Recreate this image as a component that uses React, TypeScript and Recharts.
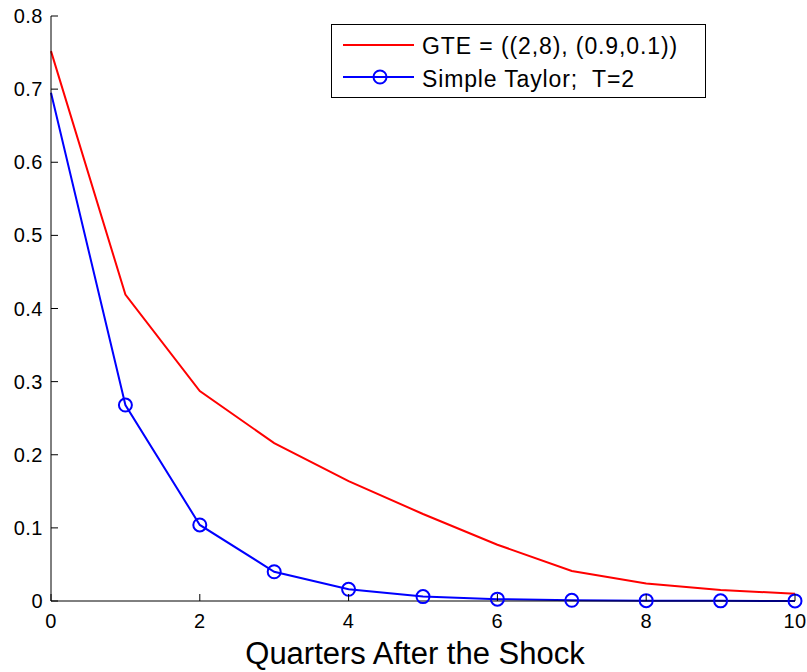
import React from 'react';
import { LineChart, Line, XAxis, YAxis } from 'recharts';

const quarters = [0, 1, 2, 3, 4, 5, 6, 7, 8, 9, 10];
const gte = [0.752, 0.419, 0.287, 0.216, 0.164, 0.119, 0.077, 0.041, 0.024, 0.015, 0.01];
const taylor = [0.695, 0.268, 0.104, 0.04, 0.016, 0.006, 0.0025, 0.001, 0.0005, 0.0002, 0.0001];
const xTicks = [0, 2, 4, 6, 8, 10];
const yTicks = [0, 0.1, 0.2, 0.3, 0.4, 0.5, 0.6, 0.7, 0.8];

const chartData = quarters.map((q, i) => ({ q, gte: gte[i], taylor: taylor[i] }));

const FONT = '"Liberation Sans", Arial, sans-serif';
const TICK_LEN = 7;

const BottomTick = (props: any) => {
  const { x, y, payload } = props;
  return (
    <g>
      <line x1={x} y1={y} x2={x} y2={y - TICK_LEN} stroke="#000" strokeWidth={1} />
      <text x={x} y={y + 27} textAnchor="middle" fontSize={20} letterSpacing={0.5} fontFamily={FONT} fill="#000">
        {payload.value}
      </text>
    </g>
  );
};

const TopTick = (props: any) => {
  const { x, y } = props;
  return <line x1={x} y1={y} x2={x} y2={y + TICK_LEN} stroke="#000" strokeWidth={1} />;
};

const LeftTick = (props: any) => {
  const { x, y, payload } = props;
  return (
    <g>
      <line x1={x} y1={y} x2={x + TICK_LEN} y2={y} stroke="#000" strokeWidth={1} />
      <text x={x - 8} y={y + 7} textAnchor="end" fontSize={20} letterSpacing={0.5} fontFamily={FONT} fill="#000">
        {payload.value === 0 ? '0' : payload.value.toFixed(1)}
      </text>
    </g>
  );
};

const RightTick = (props: any) => {
  const { x, y } = props;
  return <line x1={x} y1={y} x2={x - TICK_LEN} y2={y} stroke="#000" strokeWidth={1} />;
};

// MATLAB draws no marker at the first point here
const TaylorDot = (props: any) => {
  const { cx, cy, index } = props;
  if (index === 0 || cx == null || cy == null) return <g key={`d${index}`} />;
  return <circle key={`d${index}`} cx={cx} cy={cy} r={6.5} fill="none" stroke="#0000ff" strokeWidth={2} />;
};

const LegendBox = () => (
  <div
    style={{
      position: 'absolute',
      left: 331,
      top: 24,
      width: 375,
      height: 74,
      border: '1px solid #000',
      background: '#fff',
      boxSizing: 'border-box',
    }}
  >
    <svg width={373} height={72} style={{ display: 'block' }}>
      <line x1={11} y1={20} x2={82} y2={20} stroke="#ff0000" strokeWidth={2} />
      <text x={90} y={29} fontSize={23} letterSpacing={0.9} fontFamily={FONT} fill="#000" style={{ whiteSpace: 'pre' }}>
        GTE = ((2,8), (0.9,0.1))
      </text>
      <line x1={11} y1={52} x2={82} y2={52} stroke="#0000ff" strokeWidth={2} />
      <circle cx={48} cy={52} r={6.5} fill="none" stroke="#0000ff" strokeWidth={2} />
      <text x={90} y={62} fontSize={23} letterSpacing={0.85} fontFamily={FONT} fill="#000" style={{ whiteSpace: 'pre' }}>
        Simple Taylor;  T=2
      </text>
    </svg>
  </div>
);

export default function App() {
  return (
    <div style={{ position: 'absolute', left: 0, top: 0, width: 807, height: 672, background: '#fff' }}>
      <LineChart width={807} height={672} data={chartData} margin={{ top: 16, right: 12, bottom: 0, left: 0 }}>
        <XAxis
          dataKey="q"
          type="number"
          domain={[0, 10]}
          ticks={xTicks}
          tick={<BottomTick />}
          tickLine={false}
          tickSize={0}
          tickMargin={0}
          axisLine={{ stroke: '#000', strokeWidth: 1 }}
          height={71}
          interval={0}
          label={{ value: 'Quarters After the Shock', position: 'insideBottom', offset: 8, dx: -8, fontSize: 31, fontFamily: FONT, fill: '#000' }}
        />
        <XAxis
          xAxisId="top"
          dataKey="q"
          type="number"
          orientation="top"
          domain={[0, 10]}
          ticks={xTicks}
          tick={<TopTick />}
          tickLine={false}
          tickSize={0}
          tickMargin={0}
          axisLine={{ stroke: '#000', strokeWidth: 1 }}
          height={0}
          interval={0}
        />
        <YAxis
          type="number"
          domain={[0, 0.8]}
          ticks={yTicks}
          tick={<LeftTick />}
          tickLine={false}
          tickSize={0}
          tickMargin={0}
          axisLine={{ stroke: '#000', strokeWidth: 1 }}
          width={51}
          interval={0}
        />
        <YAxis
          yAxisId="right"
          orientation="right"
          type="number"
          domain={[0, 0.8]}
          ticks={yTicks}
          tick={<RightTick />}
          tickLine={false}
          tickSize={0}
          tickMargin={0}
          axisLine={{ stroke: '#000', strokeWidth: 1 }}
          width={0}
          interval={0}
        />
        <Line
          dataKey="gte"
          stroke="#ff0000"
          strokeWidth={2}
          dot={false}
          activeDot={false}
          isAnimationActive={false}
        />
        <Line
          dataKey="taylor"
          stroke="#0000ff"
          strokeWidth={2}
          dot={<TaylorDot />}
          activeDot={false}
          isAnimationActive={false}
        />
      </LineChart>
      <LegendBox />
    </div>
  );
}
